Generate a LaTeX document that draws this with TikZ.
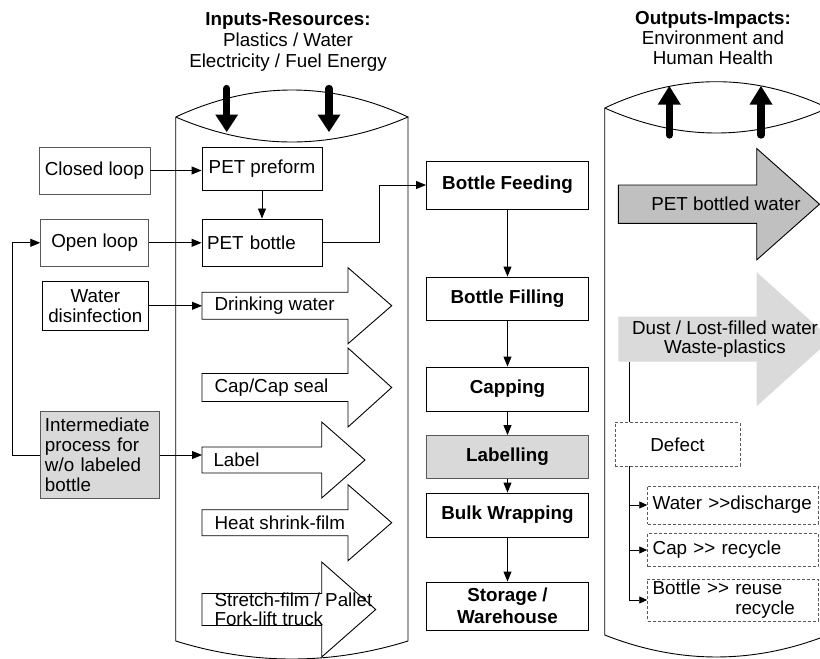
\documentclass[tikz,border=0pt]{standalone}
\usepackage{fontspec}
\setmainfont{Liberation Sans}[Ligatures=TeXOff]
\usetikzlibrary{arrows.meta}
\definecolor{boxgray}{HTML}{D9D9D9}
\definecolor{productgray}{HTML}{C0C0C0}
\definecolor{wastegray}{HTML}{DADADA}

% block arrow: style, left x, centre y, shaft half height, head start x, head half height, tip x
\newcommand\blkarrow[7]{%
  \path[#1] (#2,#3-#4) -- (#5,#3-#4) -- (#5,#3-#6) -- (#7,#3) -- (#5,#3+#6)
    -- (#5,#3+#4) -- (#2,#3+#4) -- cycle;}
% heavy vertical arrow: x, tail y, head base y, tip y
\newcommand\fatarrow[4]{%
  \draw[line width=7.3pt,line cap=round] (#1,#2) -- (#1,#3);
  \fill (#1-11.5,#3) -- (#1+11.5,#3) -- (#1,#4) -- cycle;}
% lens-shaped cylinder mouth: left x, right x, end y, top y, bottom y
\newcommand\mouth[5]{%
  \draw[shell] (#1,#3) .. controls ({#1+(#2-#1)/3},{#3+4/3*(#4-#3)}) and ({#2-(#2-#1)/3},{#3+4/3*(#4-#3)}) .. (#2,#3)
    .. controls ({#2-(#2-#1)/3},{#3+4/3*(#5-#3)}) and ({#1+(#2-#1)/3},{#3+4/3*(#5-#3)}) .. (#1,#3);}

\begin{document}
\begin{tikzpicture}[x=1pt,y=-1pt,
  font=\fontsize{18.8}{20.5}\selectfont,
  shell/.style={line width=0.9pt},
  conn/.style={draw,line width=0.9pt,-{Triangle[length=10pt,width=8pt]}},
  branch/.style={draw,line width=0.9pt,-{Triangle[length=8pt,width=7pt]}},
  plain/.style={draw,line width=0.9pt},
  srcbox/.style={draw=black!65,line width=0.9pt,inner sep=0pt,align=center},
  solidbox/.style={draw,line width=0.9pt,inner sep=0pt,align=center},
  procbox/.style={draw,line width=0.9pt,inner sep=0pt,align=center,
    minimum width=162pt,font=\fontsize{18.8}{21}\selectfont\bfseries},
  dashbox/.style={draw=black!65,line width=0.9pt,dash pattern=on 3pt off 2pt,inner sep=0pt},
  blk/.style={draw,line width=0.9pt,fill=white,line join=miter},
]
\useasboundingbox (0,0) rectangle (820,659);
\clip (0,0) rectangle (820,659);
\fill[white] (0,0) rectangle (820,659);

% ---------- headings ----------
\node[align=center,font=\fontsize{18.8}{21}\selectfont] (inhead) at (288,42)
  {\textbf{Inputs-Resources:}\\Plastics / Water\\Electricity / Fuel Energy};
\node[align=center,font=\fontsize{18.8}{20}\selectfont] (outhead) at (713,38)
  {\textbf{Outputs-Impacts:}\\Environment and\\Human Health};

% ---------- input cylinder ----------
\draw[shell] (175.7,117) -- (175.7,641) .. controls (253,665) and (330.7,665) .. (408,641) -- (408,117);
\mouth{175.7}{408}{117}{90}{142}
\fatarrow{226.7}{88.5}{114.5}{132}
\fatarrow{329}{88.5}{114.5}{132}

% ---------- output cylinder ----------
\draw[shell] (604.7,108) -- (604.7,635) .. controls (679,664.3) and (753.7,664.3) .. (828,635) -- (828,108);
\mouth{604.7}{828}{108}{81.7}{133}
\fatarrow{669.3}{135}{104.5}{86}
\fatarrow{761}{135}{104.5}{86}

% ---------- resource block arrows ----------
\blkarrow{blk}{202}{305.7}{13.5}{348}{38}{391.7}
\blkarrow{blk}{202}{387.5}{14}{348}{39.5}{391.7}
\blkarrow{blk}{202}{460}{13}{321.7}{38}{365}
\blkarrow{blk}{202}{522.7}{13}{348}{38}{391.7}
\blkarrow{blk}{202}{609.5}{16}{321.7}{47.5}{375.7}
\coordinate (drinkin) at (202,305.7);
\coordinate (labelin) at (202,460);
\node[anchor=west] (drink) at (211,305.7) {Drinking water};
\node[anchor=west] (capseal) at (211,387.5) {Cap/Cap seal};
\node[anchor=west] (label) at (210,460) {Label};
\node[anchor=west] (shrink) at (211,522.7) {Heat shrink-film};
\node[anchor=west,align=left,font=\fontsize{18.8}{18.5}\selectfont] (stretch) at (211,609.5)
  {Stretch-film / Pallet\\Fork-lift truck};

% ---------- source boxes ----------
\node[srcbox,minimum width=111pt,minimum height=47pt] (closed) at (94.5,170.5) {Closed loop};
\node[srcbox,minimum width=108pt,minimum height=47.7pt] (open) at (94.7,242.8) {Open loop};
\node[solidbox,minimum width=106.7pt,minimum height=48.3pt,font=\fontsize{18.8}{20}\selectfont] (wdis) at (95.3,305.8)
  {Water\\disinfection};
\node[srcbox,fill=boxgray,align=left,inner xsep=4.3pt,text width=110pt,minimum height=86.6pt,
  font=\fontsize{18.8}{20}\selectfont] (inter) at (100,455)
  {Intermediate\\process for\\w/o labeled\\bottle};

\node[solidbox,minimum width=120pt,minimum height=43pt] (pref) at (262,168.5) {PET preform};
\node[solidbox,align=left,inner xsep=5pt,text width=110pt,minimum height=47.7pt] (pbot) at (262,242.8) {PET bottle};

% ---------- process line ----------
\node[procbox,minimum height=48pt] (feed) at (507.5,185) {Bottle Feeding};
\node[procbox,minimum height=43pt] (filling) at (507.5,298.5) {Bottle Filling};
\node[procbox,minimum height=44pt] (capping) at (507.5,389) {Capping};
\node[procbox,draw=black!65,fill=boxgray,minimum height=43pt] (labelling) at (507.5,457) {Labelling};
\node[procbox,minimum height=44pt] (bulk) at (507.5,515) {Bulk Wrapping};
\node[procbox,minimum height=48pt,font=\fontsize{18.8}{22}\selectfont\bfseries] (store) at (507.5,606)
  {Storage /\\Warehouse};

% ---------- connectors ----------
\draw[conn] (closed.east) -- (closed.east -| pref.west);
\draw[conn] (pref.south) -- (pbot.north);
\draw[conn] (open.east) -- (open.east -| pbot.west);
\draw[conn] (wdis.east) -- (wdis.east -| drinkin);
\draw[conn] (inter.east) -- (inter.east -| labelin);
\draw[conn] (inter.west) -- ++(-27.4,0) |- (open.west);
\draw[conn] (pbot.east) -- ++(57.3,0) |- (feed.west);
\draw[conn] (feed.south) -- (filling.north);
\draw[conn] (filling.south) -- (capping.north);
\draw[conn] (capping.south) -- (labelling.north);
\draw[conn] (labelling.south) -- (bulk.north);
\draw[conn] (bulk.south) -- (store.north);

% ---------- outputs ----------
\blkarrow{blk,fill=productgray}{618.3}{204.2}{19.2}{756.7}{55.7}{819.5}
\node (bottled) at (726,204) {PET bottled water};
\blkarrow{fill=wastegray}{618.3}{339.2}{22.5}{756.7}{67}{831}
\node[align=center,font=\fontsize{18.8}{19}\selectfont] (waste) at (725,339.2)
  {Dust / Lost-filled water\\Waste-plastics};
\coordinate (wastefoot) at (629.3,361.7);

\node[dashbox,minimum width=125pt,minimum height=43.3pt] (defect) at (677.5,444.3) {Defect};
\node[dashbox,align=left,inner xsep=5pt,text width=160.3pt,minimum height=38pt] (wout) at (732.85,505)
  {Water >>discharge};
\node[dashbox,align=left,inner xsep=5pt,text width=160.3pt,minimum height=33.4pt] (cout) at (732.85,550)
  {Cap >> recycle};
\node[dashbox,align=left,inner xsep=5pt,text width=160.3pt,minimum height=42pt,
  font=\fontsize{18.8}{20}\selectfont] (bout) at (732.85,600)
  {Bottle >> reuse\\\phantom{Bottle >> }recycle};

\draw[plain] (wastefoot) -- (wastefoot |- defect.north);
\coordinate (trunk) at (defect.south -| wastefoot);
\draw[branch] (trunk) |- (bout.west);
\draw[branch] (wout.west -| trunk) -- (wout.west);
\draw[branch] (cout.west -| trunk) -- (cout.west);
\end{tikzpicture}
\end{document}
